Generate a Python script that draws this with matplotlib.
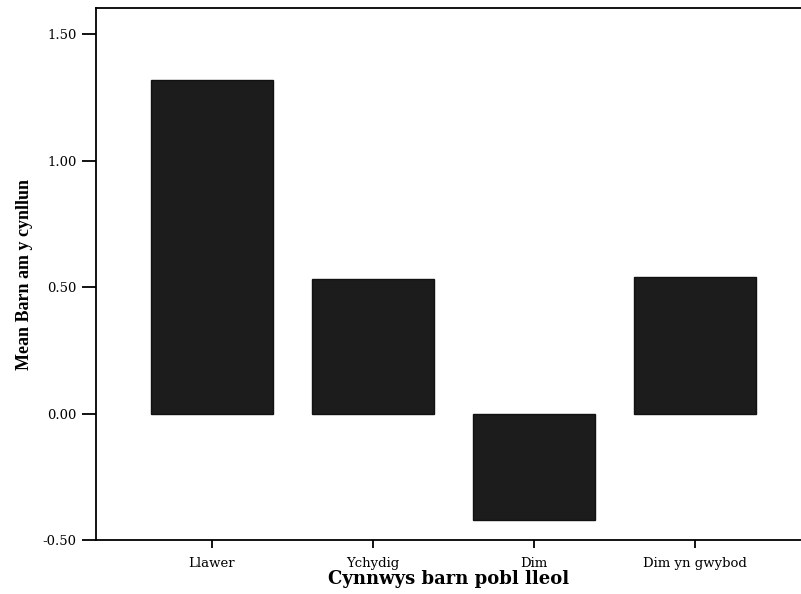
import matplotlib.pyplot as plt
import numpy as np

categories = ["Llawer", "Ychydig", "Dim", "Dim yn gwybod"]
means = [1.32, 0.53, -0.42, 0.54]
yticks = [-0.5, 0.0, 0.5, 1.0, 1.5]

plt.rcParams['font.family'] = ['DejaVu Serif']

fig = plt.figure(figsize=(8.01, 5.94), dpi=100)
ax = fig.add_axes([0.1199, 0.0909, 0.8801, 0.8956])

x = np.arange(len(categories))
ax.bar(x, means, width=0.76, color='#1c1c1c', edgecolor='#111111')

ax.set_xlim(-0.72, 3.66)
ax.set_ylim(-0.5, 1.603)
ax.set_xticks(x)
ax.set_xticklabels(categories, fontsize=9.5)
ax.set_yticks(yticks)
ax.set_yticklabels(["%.2f" % v for v in yticks], fontsize=9.5)

ax.spines['right'].set_visible(False)
for s in ['left', 'top', 'bottom']:
    ax.spines[s].set_linewidth(1.3)
ax.tick_params(axis='y', length=10, width=1.3, pad=4)
ax.tick_params(axis='x', length=6, width=1.3, pad=6.5)

ax.set_xlabel("Cynnwys barn pobl lleol", fontsize=13, fontweight='bold', labelpad=0)
ax.set_ylabel("Mean Barn am y cynllun", fontsize=13, fontweight='bold', labelpad=7,
              family='Liberation Serif')

fig.savefig("out.png", dpi=100)
